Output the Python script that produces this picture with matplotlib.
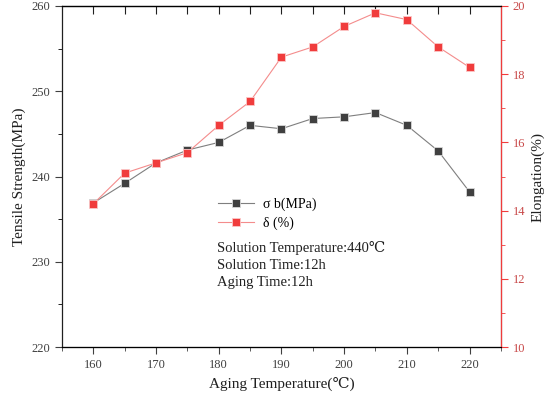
#!/usr/bin/env python3
"""Tensile strength and elongation versus aging temperature (dual y axis)."""

import matplotlib

matplotlib.use("Agg")
import matplotlib.pyplot as plt
from matplotlib.ticker import MultipleLocator

plt.rcParams["font.family"] = ["Liberation Serif", "DejaVu Serif", "Noto Sans CJK SC"]

aging_temp = [160, 165, 170, 175, 180, 185, 190, 195, 200, 205, 210, 215, 220]
strength = [236.9, 239.2, 241.6, 243.1, 244.0, 246.0, 245.6, 246.8, 247.0, 247.5, 246.0, 243.0, 238.2]
elongation = [14.2, 15.1, 15.4, 15.7, 16.5, 17.2, 18.5, 18.8, 19.4, 19.8, 19.6, 18.8, 18.2]

notes = ["Solution Temperature:440\u2103", "Solution Time:12h", "Aging Time:12h"]

RED = "#f03c3c"
DARK = "#404040"

fig = plt.figure(figsize=(5.5, 3.98), dpi=100)
ax = fig.add_axes([0.1127, 0.128, 0.798, 0.857])
ax2 = ax.twinx()

l1, = ax.plot(aging_temp, strength, color="#7f7f7f", lw=0.8, marker="s", ms=6,
              mfc=DARK, mec="#d8d8d8", mew=0.6, label="\u03c3 b(MPa)")
l2, = ax2.plot(aging_temp, elongation, color="#f48c8c", lw=0.8, marker="s", ms=6,
               mfc=RED, mec="#fbc8c8", mew=0.6, label="\u03b4 (%)")

ax.set_xlim(155, 225)
ax.set_ylim(220, 260)
ax2.set_ylim(10, 20)

ax.xaxis.set_major_locator(MultipleLocator(10))
ax.xaxis.set_minor_locator(MultipleLocator(5))
ax.yaxis.set_major_locator(MultipleLocator(10))
ax.yaxis.set_minor_locator(MultipleLocator(5))
ax2.yaxis.set_major_locator(MultipleLocator(2))
ax2.yaxis.set_minor_locator(MultipleLocator(1))

ax.tick_params(axis="x", which="both", direction="out", top=False, labelsize=9, colors=DARK)
ax.tick_params(axis="x", which="major", length=5)
ax.tick_params(axis="x", which="minor", length=3)
ax.tick_params(axis="y", which="major", direction="out", length=5, labelsize=9, colors=DARK)
ax.tick_params(axis="y", which="minor", direction="out", length=3)

ax2.tick_params(axis="y", which="major", direction="out", length=5, labelsize=9,
                colors=RED, labelcolor="#c84848")
ax2.tick_params(axis="y", which="minor", direction="out", length=3, colors=RED)
ax2.spines["right"].set_color(RED)
ax2.spines["left"].set_visible(False)

# Origin-style mirrored ticks on the top axis, pointing inward
top = ax.secondary_xaxis("top")
top.set_xticks(range(160, 225, 5))
top.tick_params(direction="in", length=6, labeltop=False, color="#202020")

for s in ["left", "bottom", "top"]:
    ax.spines[s].set_color("#202020")
    ax.spines[s].set_linewidth(0.9)
ax2.spines["right"].set_linewidth(0.9)

ax.set_xlabel("Aging Temperature(\u2103)", fontsize=11, color="#202020")
ax.set_ylabel("Tensile Strength(MPa)", fontsize=11, color="#202020")
ax2.set_ylabel("Elongation(%)", fontsize=11, color="#202020")

ax.legend(handles=[l1, l2], loc="upper left", bbox_to_anchor=(0.326, 0.476), frameon=False,
          fontsize=10, handlelength=2.6, handletextpad=0.7, labelspacing=0.45)

ax.text(0.353, 0.31, "\n".join(notes), transform=ax.transAxes, ha="left", va="top",
        fontsize=10.5, linespacing=1.4, color="#202020")

fig.savefig("out.png", dpi=100)
